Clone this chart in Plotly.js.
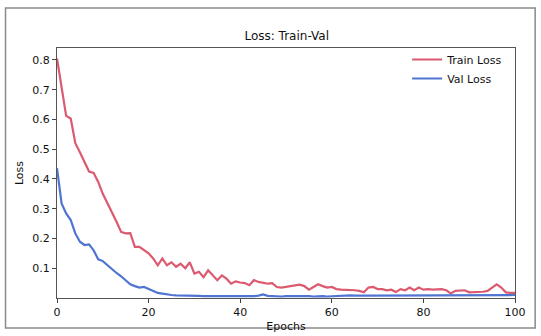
<!DOCTYPE html>
<html>
<head>
<meta charset="utf-8">
<script src="https://cdn.plot.ly/plotly-3.0.1.min.js"></script>
<style>html,body{margin:0;padding:0;background:#fff;}#chart{width:541px;height:336px;}</style>
</head>
<body>
<div id="chart"></div>
<script>
const epochs = Array.from({length: 101}, (_, i) => i);
const trainLoss = [
  0.805, 0.70, 0.612, 0.603, 0.52, 0.49, 0.455, 0.425, 0.42, 0.39,
  0.35, 0.32, 0.285, 0.256, 0.222, 0.217, 0.218, 0.172, 0.172, 0.16,
  0.15, 0.133, 0.11, 0.133, 0.11, 0.12, 0.105, 0.115, 0.10, 0.12,
  0.082, 0.088, 0.07, 0.093, 0.076, 0.06, 0.076, 0.065, 0.048, 0.056,
  0.052, 0.05, 0.043, 0.06, 0.054, 0.05, 0.048, 0.05, 0.037, 0.035,
  0.037, 0.04, 0.043, 0.045, 0.04, 0.028, 0.037, 0.046, 0.04, 0.035,
  0.037, 0.03, 0.028, 0.028, 0.026, 0.026, 0.024, 0.019, 0.035, 0.037,
  0.03, 0.03, 0.026, 0.028, 0.02, 0.03, 0.026, 0.035, 0.026, 0.035,
  0.028, 0.03, 0.028, 0.03, 0.03, 0.026, 0.015, 0.024, 0.024, 0.026,
  0.019, 0.02, 0.019, 0.021, 0.024, 0.035, 0.046, 0.035, 0.019, 0.017,
  0.017
];
const valLoss = [
  0.436, 0.318, 0.284, 0.262, 0.217, 0.189, 0.178, 0.18, 0.16, 0.13,
  0.124, 0.11, 0.096, 0.084, 0.073, 0.06, 0.046, 0.04, 0.035, 0.037,
  0.03, 0.024, 0.017, 0.015, 0.012, 0.01, 0.009, 0.009, 0.008, 0.009,
  0.007, 0.007, 0.006, 0.007, 0.006, 0.006, 0.007, 0.006, 0.006, 0.007,
  0.006, 0.006, 0.005, 0.006, 0.008, 0.012, 0.007, 0.006, 0.006, 0.005,
  0.006, 0.006, 0.007, 0.008, 0.006, 0.006, 0.005, 0.006, 0.006, 0.005,
  0.006, 0.007, 0.008, 0.009, 0.009, 0.008, 0.009, 0.008, 0.008, 0.008,
  0.009, 0.008, 0.008, 0.009, 0.008, 0.008, 0.008, 0.009, 0.008, 0.008,
  0.008, 0.008, 0.009, 0.008, 0.008, 0.008, 0.008, 0.009, 0.008, 0.008,
  0.008, 0.009, 0.008, 0.008, 0.008, 0.009, 0.009, 0.009, 0.01, 0.01,
  0.01
];
const xTicks = [0, 20, 40, 60, 80, 100];
const yTicks = [0.1, 0.2, 0.3, 0.4, 0.5, 0.6, 0.7, 0.8];

const font = {family: 'DejaVu Sans, sans-serif', color: '#111'};
const data = [
  {x: epochs, y: trainLoss, type: 'scatter', mode: 'lines', name: 'Train Loss',
   line: {color: '#dc5a70', width: 2.2}},
  {x: epochs, y: valLoss, type: 'scatter', mode: 'lines', name: 'Val Loss',
   line: {color: '#4f74d2', width: 2.2}}
];
const layout = {
  width: 541, height: 336,
  margin: {l: 57, r: 26, t: 48, b: 38},
  paper_bgcolor: '#ffffff', plot_bgcolor: '#ffffff',
  font: Object.assign({size: 11}, font),
  title: {text: 'Loss: Train-Val', font: Object.assign({size: 12}, font), x: 0.53, xanchor: 'center', y: 0.893, yanchor: 'middle'},
  xaxis: {
    range: [0, 100], tickvals: xTicks, ticks: 'outside', ticklen: 4, tickcolor: '#444',
    showgrid: false, zeroline: false, showline: true, linecolor: '#555', linewidth: 1, mirror: true,
    title: {text: 'Epochs', font: Object.assign({size: 11}, font), standoff: 4},
    tickfont: Object.assign({size: 11}, font)
  },
  yaxis: {
    range: [0, 0.84], tickvals: yTicks, ticktext: yTicks.map(v => v.toFixed(1)),
    ticks: 'outside', ticklen: 4, tickcolor: '#444',
    showgrid: false, zeroline: false, showline: true, linecolor: '#555', linewidth: 1, mirror: true,
    title: {text: 'Loss', font: Object.assign({size: 11}, font), standoff: 6},
    tickfont: Object.assign({size: 11}, font)
  },
  legend: {x: 0.985, y: 1.012, xanchor: 'right', yanchor: 'top', bgcolor: 'rgba(255,255,255,0)',
    font: Object.assign({size: 11}, font), tracegroupgap: 0, itemwidth: 30},
  shapes: [
    {type: 'rect', xref: 'paper', yref: 'paper', x0: -0.1124, x1: 1.044, y0: -0.12, y1: 1.16,
     line: {color: '#8a8a8a', width: 1.5}, fillcolor: 'rgba(0,0,0,0)', layer: 'below'}
  ],
  showlegend: true
};
Plotly.newPlot('chart', data, layout, {displayModeBar: false, staticPlot: true});
</script>
</body>
</html>
